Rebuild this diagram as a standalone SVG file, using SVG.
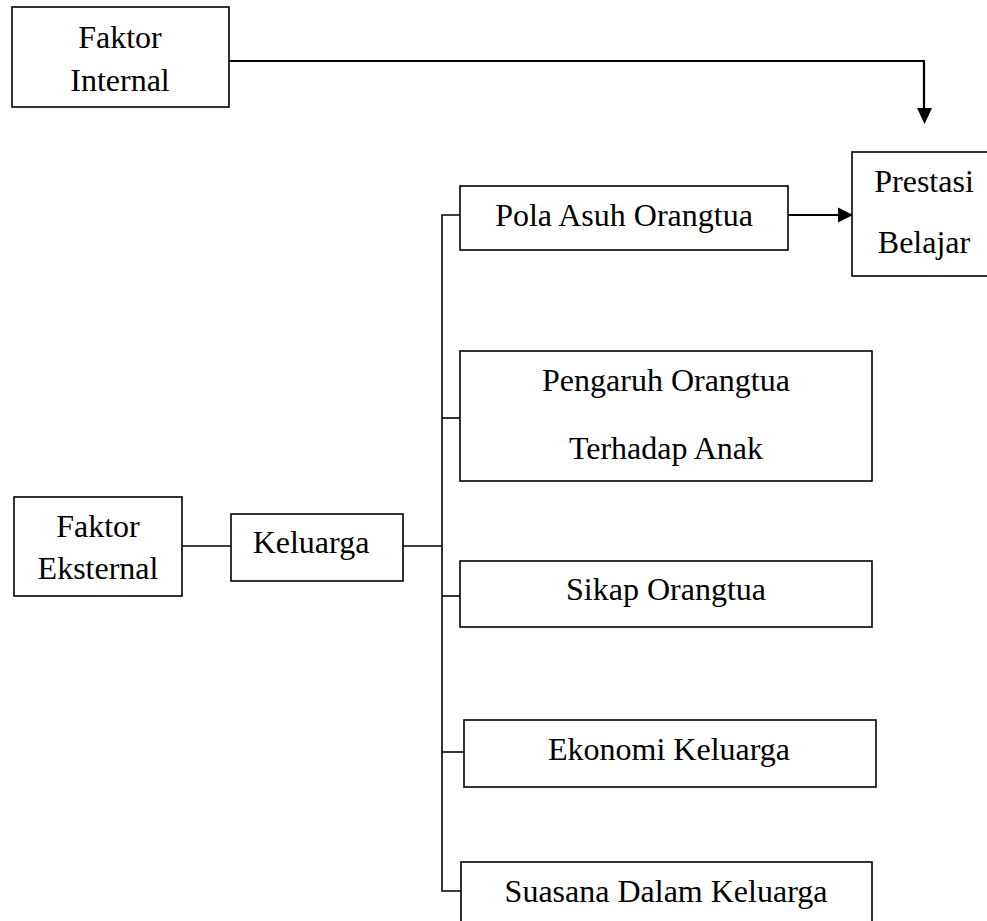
<svg xmlns="http://www.w3.org/2000/svg" width="987" height="921" viewBox="0 0 987 921">
<style>
.box{fill:#fff;stroke:#000;stroke-width:1.6}
.t{font-family:"Liberation Serif","Times New Roman",serif;font-size:32px;fill:#000;text-anchor:middle}
.c{fill:none;stroke:#000;stroke-width:1.6}
.a{fill:none;stroke:#000;stroke-width:2.2}
</style>
<rect width="987" height="921" fill="#fff"/>
<g id="connectors">
<polyline class="a" points="229,61 924,61 924,110"/>
<polygon points="917,108 932,108 924.5,124" fill="#000"/>
<line class="a" x1="788" y1="215" x2="840" y2="215"/>
<polygon points="838,207.5 838,222.5 853,215" fill="#000"/>
<line class="c" x1="182" y1="546" x2="231" y2="546"/>
<line class="c" x1="403" y1="546" x2="442" y2="546"/>
<polyline class="c" points="460,215 442,215 442,891 461,891"/>
<line class="c" x1="442" y1="418" x2="460" y2="418"/>
<line class="c" x1="442" y1="596" x2="460" y2="596"/>
<line class="c" x1="442" y1="752" x2="464" y2="752"/>
</g>
<g id="faktor-internal">
<rect class="box" x="12" y="7" width="217" height="100"/>
<text class="t" x="120" y="48">Faktor</text>
<text class="t" x="120" y="91">Internal</text>
</g>
<g id="prestasi-belajar">
<rect class="box" x="852" y="152" width="145" height="124"/>
<text class="t" x="924" y="192">Prestasi</text>
<text class="t" x="924" y="253">Belajar</text>
</g>
<g id="pola-asuh">
<rect class="box" x="460" y="186" width="328" height="64"/>
<text class="t" x="624" y="226">Pola Asuh Orangtua</text>
</g>
<g id="pengaruh-orangtua">
<rect class="box" x="460" y="351" width="412" height="130"/>
<text class="t" x="666" y="391">Pengaruh Orangtua</text>
<text class="t" x="666" y="459">Terhadap Anak</text>
</g>
<g id="faktor-eksternal">
<rect class="box" x="14" y="497" width="168" height="99"/>
<text class="t" x="98" y="537">Faktor</text>
<text class="t" x="98" y="579">Eksternal</text>
</g>
<g id="keluarga">
<rect class="box" x="231" y="514" width="172" height="67"/>
<text class="t" x="311" y="553">Keluarga</text>
</g>
<g id="sikap-orangtua">
<rect class="box" x="460" y="561" width="412" height="66"/>
<text class="t" x="666" y="600">Sikap Orangtua</text>
</g>
<g id="ekonomi-keluarga">
<rect class="box" x="464" y="720" width="412" height="67"/>
<text class="t" x="669" y="760">Ekonomi Keluarga</text>
</g>
<g id="suasana-keluarga">
<rect class="box" x="461" y="862" width="411" height="80"/>
<text class="t" x="666" y="902">Suasana Dalam Keluarga</text>
</g>
</svg>
